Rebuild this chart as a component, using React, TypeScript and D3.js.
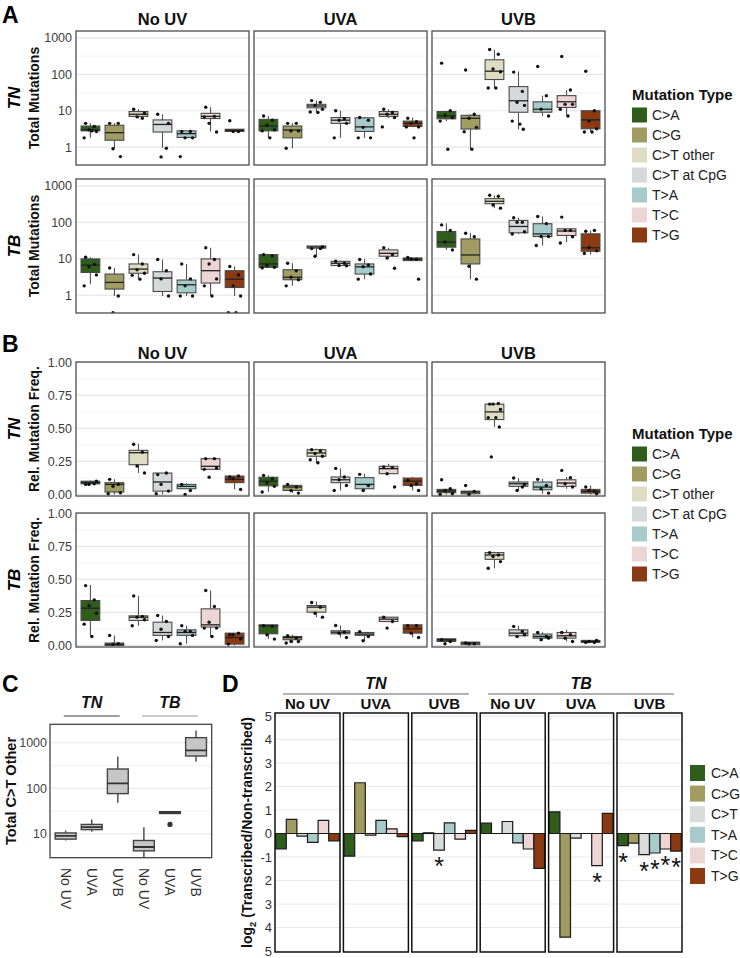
import React from "react";
import * as d3 from "d3";

const FONT = "'Liberation Sans', Arial, Helvetica, sans-serif";

// ---------- shared categories ----------
const mutationTypes = ["C>A", "C>G", "C>T other", "C>T at CpG", "T>A", "T>C", "T>G"];
const typeColors = ["#2f5e1c", "#a09c62", "#dedcc3", "#d5d9da", "#a7caca", "#edd4d5", "#8c3a12"];
const treatments = ["No UV", "UVA", "UVB"];
const rowNames = ["TN", "TB"];

// ---------- Panel A: total mutations (log) ----------
const absTicks = [1, 10, 100, 1000];
const absTickLabels = ["1", "10", "100", "1000"];

// [whiskerLow, q1, median, q3, whiskerHigh]
const absTNBoxes = [
  [[1.8, 2.8, 3.0, 3.8, 4.5], [0.9, 1.55, 2.5, 4.0, 4.5], [6.2, 7.0, 8.0, 9.5, 11], [0.95, 2.6, 4.2, 5.6, 8.0], [1.8, 1.85, 2.35, 2.8, 2.8], [2.7, 6.1, 7.0, 8.5, 12.5], [2.7, 2.7, 2.9, 3.1, 3.1]],
  [[1.8, 2.8, 3.8, 5.8, 7.2], [0.93, 1.8, 2.95, 3.8, 4.5], [9, 12, 13.5, 15, 19], [1.8, 4.5, 5.5, 6.5, 10], [1.8, 2.7, 3.6, 6.4, 6.8], [6.2, 7, 8, 9.5, 11], [3.6, 3.7, 4.5, 5.2, 6.5]],
  [[5.2, 6, 7.2, 9.5, 10], [0.88, 3.15, 6.2, 7.5, 8], [42, 72, 122, 251, 475], [3.1, 9.1, 18.8, 46, 119], [7.2, 9.1, 11, 17.6, 26], [7.2, 12.3, 17.6, 26, 37], [2.6, 3.2, 5.6, 10, 10]],
];
const absTNPoints = [
  [[4.5, 3.7, 3.0, 2.7, 1.8, 2.8], [4.5, 4.5, 0.9, 0.55], [11, 6.2, 6.8, 8.5], [8, 0.93, 0.54, 4.5], [2.7, 2.7, 1.8, 1.8, 0.55], [12.5, 7, 4.5, 2.6, 6.8], [5.3, 2.7, 2.7]],
  [[7.2, 5.5, 4, 3, 2.8, 1.8], [4.5, 4.5, 2.8, 2.8, 0.93], [19, 17, 14, 11, 9.2, 9], [10, 6, 5.5, 4.5, 1.8], [6.5, 5.5, 3.5, 1.8, 1.8], [11, 9, 8, 6.5, 3.6], [6.2, 5, 4.5, 3.6, 3.6, 1.8]],
  [[203, 10, 7.5, 6.5, 5.2, 0.88], [132, 8, 6.2, 3.5, 2.66, 0.88], [480, 355, 140, 118, 42, 42], [115, 34, 17, 14, 5.2, 4.3, 3.1], [164, 26, 11, 7.2], [308, 37, 15, 15, 11, 7.2], [122, 10, 5.2, 3.2, 2.6, 2.6]],
];
const absTBBoxes = [
  [[2, 4.2, 6.7, 9.9, 11], [0.95, 1.47, 2.24, 3.8, 5.6], [2.75, 4.0, 5.2, 7.2, 13], [0.95, 1.26, 2.95, 4.4, 9.5], [0.95, 1.16, 1.93, 2.6, 7.2], [0.95, 2.15, 4.7, 9.9, 20], [0.95, 1.62, 2.75, 4.7, 6.1]],
  [[5.8, 5.8, 7.2, 13, 13], [1.8, 2.65, 3.1, 5.0, 7.5], [11.7, 19.5, 21, 22.4, 22.4], [6.5, 6.5, 7.5, 8.5, 8.8], [2.75, 3.8, 6.0, 7.2, 9.9], [10.5, 11.7, 14.1, 17.5, 20], [8.9, 8.9, 9.7, 10.5, 10.5]],
  [[17.5, 20.8, 28.5, 56, 95], [2.75, 7.2, 12.7, 35, 50], [245, 325, 378, 447, 552], [48, 51.6, 77, 113, 134], [23, 40.7, 48, 91.6, 145], [28.5, 43.5, 57.6, 66.4, 66.4], [13, 16, 20, 48.4, 60]],
];
const absTBPoints = [
  [[11, 7, 6, 3.6, 1.8], [5.6, 0.95, 0.33], [13, 7.2, 5, 4, 3.5, 2.75], [9.5, 4.7, 2.8, 0.95], [7.2, 2.8, 1.8, 0.95, 0.95], [20, 9.5, 7.2, 2.8, 1.8, 0.95], [6.1, 3.6, 1.8, 0.95, 0.33, 0.33]],
  [[13, 12, 6.5, 5.8, 5.6], [7.5, 4.7, 3.1, 2.65, 1.8], [19, 19, 11.7, 21], [8.5, 7.5, 6.5, 6.4], [9.5, 6.8, 6, 3.8, 2.75], [20, 13, 10.5, 5.5], [10.8, 9.7, 9.9, 2.75]],
  [[85, 60, 29, 17.5], [50, 40, 6.2, 2.75], [552, 520, 300, 245], [134, 100, 100, 55, 48], [145, 92, 41, 41, 23], [139, 60, 60, 40, 27], [57, 60, 20, 16.5, 14]],
];

// ---------- Panel B: relative mutation frequency ----------
const relTicks = [0, 0.25, 0.5, 0.75, 1];
const relTickLabels = ["0.00", "0.25", "0.50", "0.75", "1.00"];

const relTNBoxes = [
  [[0.076, 0.08, 0.09, 0.1, 0.105], [0, 0.018, 0.076, 0.089, 0.114], [0.162, 0.225, 0.316, 0.334, 0.385], [0, 0.025, 0.094, 0.162, 0.162], [0.043, 0.043, 0.061, 0.076, 0.086], [0.19, 0.19, 0.213, 0.271, 0.271], [0.038, 0.089, 0.114, 0.139, 0.139]],
  [[0.02, 0.065, 0.1, 0.13, 0.145], [0.01, 0.03, 0.056, 0.068, 0.076], [0.24, 0.289, 0.314, 0.339, 0.347], [0.03, 0.089, 0.111, 0.132, 0.197], [0.025, 0.043, 0.076, 0.127, 0.157], [0.157, 0.157, 0.195, 0.213, 0.233], [0.03, 0.068, 0.101, 0.124, 0.132]],
  [[0, 0.013, 0.025, 0.038, 0.043], [0, 0.005, 0.018, 0.025, 0.025], [0.511, 0.567, 0.625, 0.684, 0.694], [0.03, 0.061, 0.081, 0.094, 0.124], [0.005, 0.035, 0.056, 0.094, 0.119], [0.043, 0.061, 0.086, 0.111, 0.132], [0, 0.01, 0.023, 0.038, 0.068]],
];
const relTNPoints = [
  [[0.076, 0.08, 0.076, 0.101], [0.114, 0.076, 0.061, 0.013, 0.005], [0.38, 0.32, 0.215, 0.162], [0.15, 0.162, 0.076, 0.025, 0.005], [0.076, 0.03, 0.0], [0.271, 0.271, 0.13, 0.2, 0.19], [0.132, 0.139, 0.119, 0.038]],
  [[0.144, 0.119, 0.086, 0.061, 0.018], [0.076, 0.056, 0.03, 0.01], [0.339, 0.329, 0.309, 0.289, 0.263, 0.24], [0.197, 0.132, 0.111, 0.068, 0.03], [0.152, 0.068, 0.03], [0.208, 0.203, 0.157, 0.056], [0.106, 0.081, 0.068, 0.03]],
  [[0.111, 0.043, 0.03, 0.005, 0.0], [0.068, 0.023, 0.0], [0.684, 0.689, 0.684, 0.643, 0.582, 0.582, 0.511, 0.284], [0.124, 0.056, 0.03, 0.076], [0.114, 0.068, 0.043, 0.01], [0.182, 0.127, 0.081, 0.056], [0.056, 0.025, 0.03, 0.005]],
];
const relTBBoxes = [
  [[0.073, 0.189, 0.282, 0.34, 0.458], [0, 0, 0.008, 0.018, 0.076], [0.149, 0.189, 0.214, 0.224, 0.375], [0.038, 0.076, 0.098, 0.176, 0.227], [0.013, 0.076, 0.098, 0.118, 0.149], [0.068, 0.139, 0.156, 0.277, 0.416], [0, 0.01, 0.06, 0.093, 0.093]],
  [[0.048, 0.088, 0.149, 0.156, 0.156], [0.018, 0.043, 0.06, 0.068, 0.08], [0.214, 0.252, 0.29, 0.302, 0.332], [0.06, 0.088, 0.1, 0.111, 0.151], [0.035, 0.076, 0.086, 0.098, 0.1], [0.181, 0.181, 0.199, 0.214, 0.214], [0.06, 0.093, 0.126, 0.156, 0.156]],
  [[0.03, 0.03, 0.043, 0.05, 0.05], [0.005, 0.005, 0.018, 0.025, 0.025], [0.584, 0.652, 0.685, 0.703, 0.71], [0.06, 0.073, 0.093, 0.118, 0.149], [0.038, 0.055, 0.068, 0.086, 0.1], [0.03, 0.055, 0.073, 0.098, 0.118], [0.023, 0.023, 0.03, 0.038, 0.038]],
];
const relTBPoints = [
  [[0.453, 0.345, 0.3, 0.244, 0.161, 0.068], [0.076, 0.013, 0.008], [0.375, 0.219, 0.214, 0.194, 0.149], [0.227, 0.181, 0.123, 0.068, 0.038], [0.149, 0.106, 0.106, 0.076, 0.013], [0.416, 0.295, 0.176, 0.131, 0.131, 0.068], [0.081, 0.093, 0.081, 0.048, 0.01]],
  [[0.149, 0.144, 0.08, 0.048], [0.073, 0.055, 0.03, 0.03, 0.018], [0.325, 0.29, 0.244, 0.214], [0.151, 0.1, 0.093, 0.06], [0.103, 0.068, 0.035], [0.214, 0.181, 0.131], [0.149, 0.149, 0.093, 0.06]],
  [[0.043, 0.03, 0.013], [0.018, 0.013, 0.013], [0.703, 0.685, 0.673, 0.635, 0.584], [0.144, 0.106, 0.068, 0.081], [0.098, 0.068, 0.043, 0.055], [0.098, 0.081, 0.055, 0.03], [0.023, 0.023, 0.03, 0.038]],
];

// ---------- Panel C: total C>T other ----------
const cCategories = ["No UV", "UVA", "UVB", "No UV", "UVA", "UVB"];
const cGroups = ["TN", "TB"];
const cBoxes = [[7.1, 7.6, 9.0, 10.4, 11.8], [11, 12.3, 14, 16, 20.6], [48, 76, 128, 264, 500], [2.5, 4.2, 5.1, 7.1, 13.8], [27.8, 27.8, 29, 30.5, 30.5], [382, 510, 680, 1290, 1860]];
const cOutliers = [[], [], [], [], [16], []];
const cTicks = [10, 100, 1000];
const cTickLabels = ["10", "100", "1000"];

// ---------- Panel D: transcribed / non-transcribed ----------
const dTypes = ["C>A", "C>G", "C>T", "T>A", "T>C", "T>G"];
const dColors = ["#2f5e1c", "#a09c62", "#d8dcdc", "#a7caca", "#edd4d5", "#8c3a12"];
const dFacetTreatments = ["No UV", "UVA", "UVB", "No UV", "UVA", "UVB"];
const dValues = [
  [-0.65, 0.6, -0.11, -0.38, 0.56, -0.31],
  [-0.96, 2.16, -0.07, 0.56, 0.2, -0.13],
  [-0.32, 0.03, -0.71, 0.45, -0.24, 0.13],
  [0.44, 0.0, 0.51, -0.4, -0.66, -1.48],
  [0.92, -4.41, -0.2, 0.0, -1.37, 0.86],
  [-0.52, -0.41, -0.9, -0.83, -0.66, -0.75],
];
const dSignificant = [
  [0, 0, 0, 0, 0, 0],
  [0, 0, 0, 0, 0, 0],
  [0, 0, 1, 0, 0, 0],
  [0, 0, 0, 0, 0, 0],
  [0, 0, 0, 0, 1, 0],
  [1, 0, 1, 1, 1, 1],
];
const dTicks = [5, 4, 3, 2, 1, 0, -1, -2, -3, -4, -5];
const dTickLabels = ["5", "4", "3", "2", "1", "0", "-1", "2", "3", "4", "5"];

// ---------- layout constants ----------
const facetLefts = [76, 254, 432];
const facetW = 173;
const facetH = 134;
const jitterPattern = [-0.2, 0.16, -0.06, 0.25, -0.26, 0.06, 0.2, -0.13];

type Scale = (v: number) => number;

function BoxFacet(props: {
  id: string; x0: number; y0: number; y: Scale; major: number[]; minor: number[];
  boxes: number[][]; pts: number[][];
}) {
  const { id, x0, y0, y, major, minor, boxes, pts } = props;
  const xs = d3.scalePoint<string>().domain(mutationTypes).range([x0, x0 + facetW]).padding(0.6);
  const unit = xs.step();
  const bw = unit * 0.78;
  return (
    <g>
      <defs>
        <clipPath id={id}>
          <rect x={x0} y={y0} width={facetW} height={facetH} />
        </clipPath>
      </defs>
      <rect x={x0} y={y0} width={facetW} height={facetH} fill="#fff" />
      <g clipPath={`url(#${id})`}>
        {minor.map((v, i) => (
          <line key={"mi" + i} x1={x0} x2={x0 + facetW} y1={y(v)} y2={y(v)} stroke="#f0f0f0" strokeWidth={0.7} />
        ))}
        {major.map((v, i) => (
          <line key={"ma" + i} x1={x0} x2={x0 + facetW} y1={y(v)} y2={y(v)} stroke="#e6e6e6" strokeWidth={1.1} />
        ))}
        {boxes.map((b, i) => {
          const cx = xs(mutationTypes[i]) as number;
          const [lo, q1, med, q3, hi] = b;
          return (
            <g key={"b" + i}>
              <line x1={cx} x2={cx} y1={y(lo)} y2={y(q1)} stroke="#555" strokeWidth={1.1} />
              <line x1={cx} x2={cx} y1={y(q3)} y2={y(hi)} stroke="#555" strokeWidth={1.1} />
              <rect x={cx - bw / 2} y={y(q3)} width={bw} height={Math.max(0.5, y(q1) - y(q3))}
                fill={typeColors[i]} stroke="#4a4a4a" strokeWidth={1.1} />
              <line x1={cx - bw / 2} x2={cx + bw / 2} y1={y(med)} y2={y(med)} stroke="#222" strokeWidth={1.3} />
            </g>
          );
        })}
        {pts.map((arr, i) => {
          const cx = xs(mutationTypes[i]) as number;
          return arr.map((v, j) => (
            <circle key={"p" + i + "-" + j} cx={cx + jitterPattern[j % jitterPattern.length] * unit}
              cy={y(v)} r={1.7} fill="#111" />
          ));
        })}
      </g>
      <rect x={x0} y={y0} width={facetW} height={facetH} fill="none" stroke="#4d4d4d" strokeWidth={1.3} />
    </g>
  );
}

function BoxSection(props: {
  tag: string; letter: string; letterY: number; titleY: number; rowTops: number[];
  data: [number[][][], number[][][]][]; makeY: (top: number) => Scale;
  ticks: number[]; tickLabels: string[]; major: number[]; minor: number[];
  yTitle: string; legendTitleY: number;
}) {
  const p = props;
  return (
    <g>
      <text x={2} y={p.letterY} fontSize={23} fontWeight="bold" fill="#000">{p.letter}</text>
      {treatments.map((t, k) => (
        <text key={t} x={facetLefts[k] + facetW / 2} y={p.titleY} fontSize={16.5} fontWeight="bold"
          textAnchor="middle" fill="#111">{t}</text>
      ))}
      {p.rowTops.map((top, r) => {
        const y = p.makeY(top);
        const [boxes, pts] = p.data[r];
        const cy = top + facetH / 2;
        return (
          <g key={"row" + r}>
            <text transform={`translate(20,${cy}) rotate(-90)`} textAnchor="middle" fontSize={17}
              fontWeight="bold" fontStyle="italic" fill="#000">{rowNames[r]}</text>
            <text transform={`translate(39,${cy}) rotate(-90)`} textAnchor="middle" fontSize={14}
              fontWeight="bold" fill="#111">{p.yTitle}</text>
            {p.ticks.map((v, i) => (
              <text key={"t" + i} x={72} y={y(v)} dy="0.35em" textAnchor="end" fontSize={12.5}
                fill="#3c3c3c">{p.tickLabels[i]}</text>
            ))}
            {treatments.map((t, k) => (
              <BoxFacet key={t} id={`${p.tag}-${r}-${k}`} x0={facetLefts[k]} y0={top} y={y}
                major={p.major} minor={p.minor} boxes={boxes[k]} pts={pts[k]} />
            ))}
          </g>
        );
      })}
      <text x={632} y={p.legendTitleY} fontSize={15} fontWeight="bold" fill="#111">Mutation Type</text>
      {mutationTypes.map((m, i) => {
        const top = p.legendTitleY + 7.5 + i * 20;
        return (
          <g key={m}>
            <rect x={632} y={top} width={15} height={15} fill={typeColors[i]} />
            <text x={652} y={top + 7.5} dy="0.35em" fontSize={14} fill="#222">{m}</text>
          </g>
        );
      })}
    </g>
  );
}

function PanelC() {
  const x0 = 50, x1 = 211.7, y0 = 724.3, y1 = 857.7;
  const y = d3.scaleLog().domain([Math.pow(10, 0.473), Math.pow(10, 3.404)]).range([y1, y0]).clamp(true);
  const idx = cCategories.map((_, i) => String(i));
  const xs = d3.scalePoint<string>().domain(idx).range([x0, x1]).padding(0.6);
  const unit = xs.step();
  const bw = unit * 0.8;
  const grid = [10, Math.pow(10, 1.5), 100, Math.pow(10, 2.5), 1000];
  const groupCenters = [0, 1].map((g) => ((xs(String(g * 3)) as number) + (xs(String(g * 3 + 2)) as number)) / 2);
  return (
    <g>
      <text x={2} y={692} fontSize={23} fontWeight="bold" fill="#000">C</text>
      {cGroups.map((g, k) => (
        <g key={g}>
          <text x={groupCenters[k]} y={708} textAnchor="middle" fontSize={16} fontWeight="bold"
            fontStyle="italic" fill="#111">{g}</text>
          <line x1={groupCenters[k] - 28} x2={groupCenters[k] + 28} y1={716} y2={716}
            stroke={k === 0 ? "#444" : "#999"} strokeWidth={1.2} />
        </g>
      ))}
      <text transform={`translate(16,${(y0 + y1) / 2}) rotate(-90)`} textAnchor="middle" fontSize={14.5}
        fontWeight="bold" fill="#111">Total C&gt;T Other</text>
      <defs>
        <clipPath id="clipC"><rect x={x0} y={y0} width={x1 - x0} height={y1 - y0} /></clipPath>
      </defs>
      <rect x={x0} y={y0} width={x1 - x0} height={y1 - y0} fill="#fff" />
      <g clipPath="url(#clipC)">
        {grid.map((v, i) => (
          <line key={i} x1={x0} x2={x1} y1={y(v)} y2={y(v)} stroke={i % 2 === 0 ? "#e6e6e6" : "#f0f0f0"}
            strokeWidth={i % 2 === 0 ? 1.1 : 0.8} />
        ))}
        {cBoxes.map((b, i) => {
          const cx = xs(String(i)) as number;
          const [lo, q1, med, q3, hi] = b;
          return (
            <g key={i}>
              <line x1={cx} x2={cx} y1={y(lo)} y2={y(q1)} stroke="#444" strokeWidth={1.4} />
              <line x1={cx} x2={cx} y1={y(q3)} y2={y(hi)} stroke="#444" strokeWidth={1.4} />
              <rect x={cx - bw / 2} y={y(q3)} width={bw} height={Math.max(0.5, y(q1) - y(q3))}
                fill="#c6c6c6" stroke="#444" strokeWidth={1.4} />
              <line x1={cx - bw / 2} x2={cx + bw / 2} y1={y(med)} y2={y(med)} stroke="#333" strokeWidth={1.8} />
              {cOutliers[i].map((o, j) => (
                <circle key={j} cx={cx} cy={y(o)} r={2.6} fill="#333" />
              ))}
            </g>
          );
        })}
      </g>
      <rect x={x0} y={y0} width={x1 - x0} height={y1 - y0} fill="none" stroke="#444" strokeWidth={1.3} />
      {cTicks.map((v, i) => (
        <text key={i} x={47} y={y(v)} dy="0.35em" textAnchor="end" fontSize={12.5} fill="#444">{cTickLabels[i]}</text>
      ))}
      {cCategories.map((c, i) => (
        <text key={i} transform={`translate(${xs(String(i))},868) rotate(90)`} dy="0.35em" fontSize={14}
          fill="#333">{c}</text>
      ))}
    </g>
  );
}

function PanelD() {
  const top = 713, bottom = 952, w = 65;
  const lefts = dFacetTreatments.map((_, i) => 275 + i * 68.4);
  const y = d3.scaleLinear().domain([-5, 5]).range([951, 716]);
  const groupNames = ["TN", "TB"];
  return (
    <g>
      <text x={222} y={692} fontSize={23} fontWeight="bold" fill="#000">D</text>
      <text transform={`translate(252,${(top + bottom) / 2}) rotate(-90)`} textAnchor="middle" fontSize={14}
        fontWeight="bold" fill="#111">
        log<tspan fontSize={9.5} dy={4}>2</tspan><tspan dy={-4}> (Transcribed/Non-transcribed)</tspan>
      </text>
      {dTicks.map((v, i) => (
        <text key={i} x={272} y={y(v)} dy="0.35em" textAnchor="end" fontSize={13} fill="#333">{dTickLabels[i]}</text>
      ))}
      {groupNames.map((g, k) => {
        const l = lefts[k * 3], r = lefts[k * 3 + 2] + w;
        return (
          <g key={g}>
            <text x={(l + r) / 2} y={689} textAnchor="middle" fontSize={16} fontWeight="bold" fontStyle="italic"
              fill="#111">{g}</text>
            <line x1={l + 8} x2={r - 8} y1={694} y2={694} stroke="#999" strokeWidth={1.5} />
          </g>
        );
      })}
      {dValues.map((vals, f) => {
        const x0 = lefts[f];
        const xb = d3.scaleBand<string>().domain(dTypes).range([x0 + 0.7, x0 + w - 0.7]).padding(0);
        return (
          <g key={f}>
            <text x={x0 + w / 2} y={709} textAnchor="middle" fontSize={15} fontWeight="bold" fill="#111">
              {dFacetTreatments[f]}
            </text>
            <rect x={x0} y={top} width={w} height={bottom - top} fill="#fff" />
            {dTicks.map((v, i) => (
              <line key={i} x1={x0} x2={x0 + w} y1={y(v)} y2={y(v)} stroke="#e8e8e8" strokeWidth={1} />
            ))}
            {vals.map((v, i) => {
              const bx = xb(dTypes[i]) as number;
              const bwid = xb.bandwidth();
              const ya = y(0), yb = y(v);
              return (
                <path key={i} d={`M${bx},${ya}H${bx + bwid}V${yb}H${bx}Z`} fill={dColors[i]}
                  stroke="#1a1a1a" strokeWidth={1.2} />
              );
            })}
            {vals.map((v, i) =>
              dSignificant[f][i] ? (
                <text key={"s" + i} x={(xb(dTypes[i]) as number) + xb.bandwidth() / 2} y={Math.max(y(0), y(v)) + 25}
                  textAnchor="middle" fontSize={25} fill="#111">*</text>
              ) : null
            )}
            <rect x={x0} y={top} width={w} height={bottom - top} fill="none" stroke="#111" strokeWidth={1.5} />
          </g>
        );
      })}
      {dTypes.map((t, i) => {
        const tp = 765 + i * 20.6;
        return (
          <g key={t}>
            <rect x={690} y={tp} width={15} height={16} fill={dColors[i]} />
            <text x={711} y={tp + 8} dy="0.35em" fontSize={14} fill="#222">{t}</text>
          </g>
        );
      })}
    </g>
  );
}

export default function App() {
  const absY = (top: number) =>
    d3.scaleLog().domain([Math.pow(10, -0.49), Math.pow(10, 3.19)]).range([top + facetH, top]).clamp(true);
  const relY = (top: number) =>
    d3.scaleLinear().domain([-0.012, 1.003]).range([top + facetH, top]).clamp(true);
  return (
    <svg width={740} height={958} style={{ position: "absolute", left: 0, top: 0, background: "#fff" }}
      fontFamily={FONT}>
      <rect width={740} height={958} fill="#fff" />
      <BoxSection tag="A" letter="A" letterY={23} titleY={25} rowTops={[31, 179]}
        data={[[absTNBoxes, absTNPoints], [absTBBoxes, absTBPoints]]} makeY={absY}
        ticks={absTicks} tickLabels={absTickLabels} major={absTicks}
        minor={[Math.pow(10, 0.5), Math.pow(10, 1.5), Math.pow(10, 2.5)]}
        yTitle="Total Mutations" legendTitleY={100} />
      <BoxSection tag="B" letter="B" letterY={352} titleY={359} rowTops={[362, 513]}
        data={[[relTNBoxes, relTNPoints], [relTBBoxes, relTBPoints]]} makeY={relY}
        ticks={relTicks} tickLabels={relTickLabels} major={relTicks}
        minor={[0.125, 0.375, 0.625, 0.875]}
        yTitle="Rel. Mutation Freq." legendTitleY={439} />
      <PanelC />
      <PanelD />
    </svg>
  );
}
